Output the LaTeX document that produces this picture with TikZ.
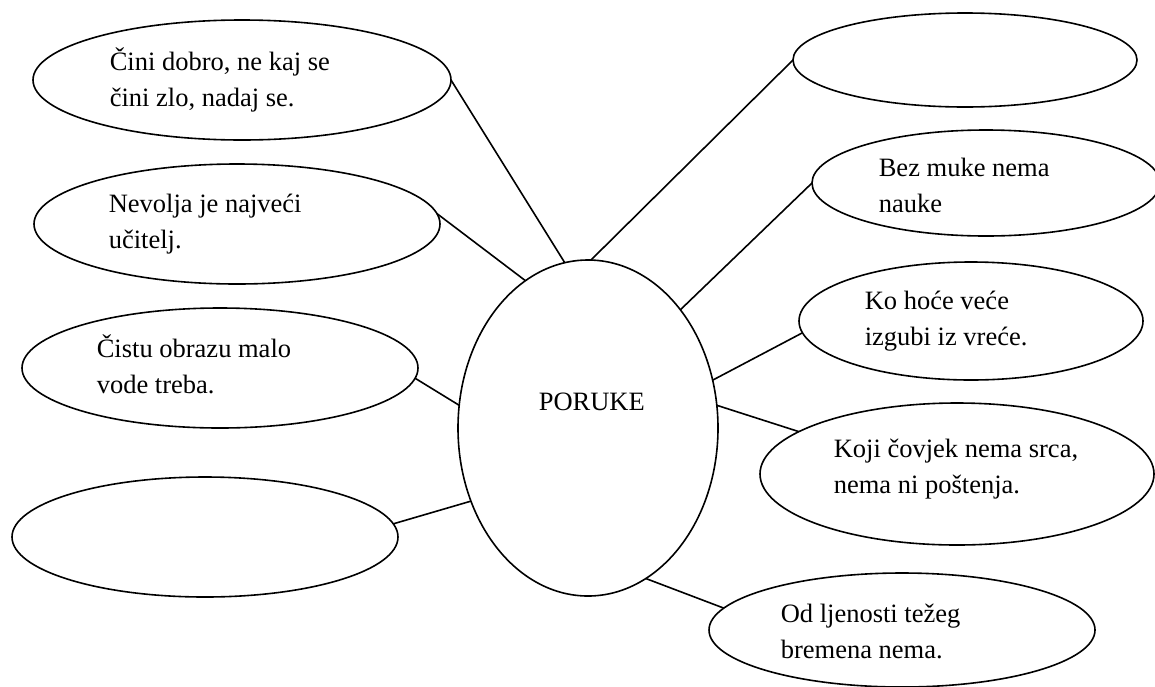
\documentclass[tikz,border=0pt]{standalone}
\usepackage{fontspec}
\setmainfont{Liberation Serif}
\usetikzlibrary{shapes.geometric}

\begin{document}
\begin{tikzpicture}[x=0.5pt,y=-0.5pt,line width=0.8pt,idea node/.style={ellipse,draw,inner sep=0pt,outer sep=0pt},text node/.style={anchor=base west,align=left,inner sep=0pt,font=\fontsize{13.25pt}{18pt}\selectfont}]

	\useasboundingbox (0,0) rectangle (1155,686);

	%nodes
	\node[idea node, minimum width=130pt, minimum height=168pt] (P) at (588,428) {};
	\node[text node] (tP) at (538,410) {PORUKE};

	\node[idea node, minimum width=209pt, minimum height=60pt] (CD) at (242,80) {};
	\node[idea node, minimum width=203pt, minimum height=60pt] (NV) at (237,224) {};
	\node[idea node, minimum width=198pt, minimum height=60pt] (CO) at (220,368) {};
	\node[idea node, minimum width=193pt, minimum height=60pt] (E1) at (205,537) {};

	\node[idea node, minimum width=172pt, minimum height=47pt] (E2) at (965,60) {};
	\node[idea node, minimum width=174pt, minimum height=53pt] (BM) at (986,183) {};
	\node[idea node, minimum width=172pt, minimum height=59pt] (KH) at (971,321) {};
	\node[idea node, minimum width=197pt, minimum height=71pt] (KC) at (957,474) {};
	\node[idea node, minimum width=193pt, minimum height=57pt] (OL) at (902,630) {};

	%texts (placed by the baseline of the last line)
	\node[text node] (tCD) at (109,106) {Čini dobro, ne kaj se \\ čini zlo, nadaj se.};
	\node[text node] (tNV) at (108,248) {Nevolja je najveći \\ učitelj.};
	\node[text node] (tCO) at (96,393) {Čistu obrazu malo \\ vode treba.};
	\node[text node] (tBM) at (878,212) {Bez muke nema \\ nauke};
	\node[text node] (tKH) at (864,345) {Ko hoće veće \\ izgubi iz vreće.};
	\node[text node] (tKC) at (833,493) {Koji čovjek nema srca, \\ nema ni poštenja.};
	\node[text node] (tOL) at (780,658) {Od ljenosti težeg \\ bremena nema.};

	%edges to the left
	\path
		(CD.east) edge (P.98)
		(NV.3) edge (P.113)
		(CO.-3) edge (P.170)
		(E1.4) edge (P.212)
	%edges to the right
		(E2.west) edge (P.89)
		(BM.west) edge (P.52)
		(KH.184) edge (P.21)
		(KC.165) edge (P.10)
		(OL.173) edge (P.291);

\end{tikzpicture}
\end{document}
